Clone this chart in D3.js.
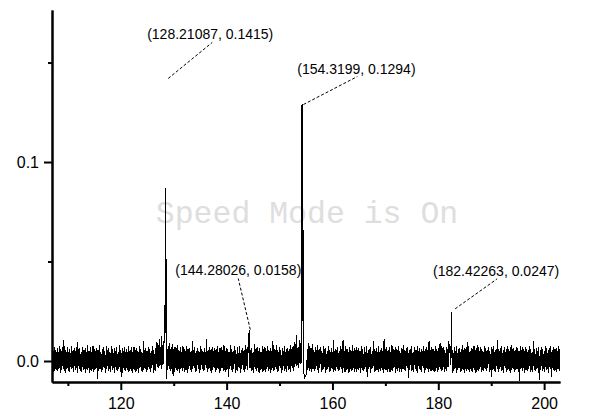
<!DOCTYPE html>
<html>
<head>
<meta charset="utf-8">
<script src="https://cdn.jsdelivr.net/npm/d3@7"></script>
<style>
  body { margin: 0; background: #fff; }
  svg text { font-family: "Liberation Sans", Arial, sans-serif; }
</style>
</head>
<body>
<div class="first"></div>
<script>
// x runs from 107 in steps of 0.125, values are in units of 1e-4
var xStart = 107;
var xStep = 0.125;
var signal = [
  62, -41, 48, -55, 70, -38, 55, -47, 66, -52, 44, -36, 73, -58, 51, -44,
  68, -39, 105, -50, 57, -61, 46, -35, 72, -48, 60, -54, 41, -42, 77, -37,
  53, -57, 64, -45, 49, -33, 95, -60, 58, -40, 67, -51, 45, -56, 71, -43,
  56, -38, 63, -62, 47, -46, 80, -35, 52, -58, 69, -49, 43, -41, 74, -53,
  59, -44, 50, -37, 66, -92, 54, -50, 78, -39, 45, -57, 62, -46, 70, -34,
  48, -60, 73, -42, 55, -51, 64, -38, 42, -55, 76, -47, 58, -36, 67, -59,
  51, -43, 69, -52, 46, -40, 79, -56, 57, -78, 63, -61, 49, -45, 72, -48,
  60, -37, 44, -54, 75, -50, 53, -42, 68, -58, 47, -39, 71, -46, 56, -53,
  65, -41, 50, -62, 74, -36, 58, -49, 43, -55, 100, -44, 55, -38, 66, -57,
  52, -47, 70, -40, 61, -53, 48, -35, 77, -59, 57, -43, 64, -50, 95, -30,
  88, -35, 110, -25, 72, -40, 125, -20, 98, -15, 280, 140, 870, -90, 60, -45,
  75, -38, 92, -52, 68, -40, 84, -76, 59, -55, 71, -36, 63, -49, 78, -42,
  54, -58, 69, -41, 47, -50, 76, -37, 61, -53, 50, -44, 73, -60, 58, -39,
  66, -46, 45, -55, 100, -42, 56, -36, 70, -57, 52, -48, 64, -40, 49, -61,
  74, -44, 60, -38, 51, -52, 67, -47, 43, -35, 110, -56, 57, -41, 69, -50,
  53, -59, 72, -43, 48, -37, 65, -54, 58, -46, 76, -40, 44, -62, 63, -48,
  70, -36, 55, -51, 82, -45, 49, -57, 67, -39, 59, -80, 46, -42, 78, -47,
  61, -55, 50, -38, 73, -60, 57, -44, 68, -49, 42, -36, 75, -58, 54, -41,
  66, -47, 49, -53, 79, -39, 60, -45, 70, 40, 158, -35, 56, -50, 64, -43,
  47, -58, 85, -40, 58, -52, 71, -37, 52, -61, 63, -46, 45, -42, 77, -54,
  59, -44, 68, -56, 50, -38, 74, -49, 56, -41, 66, -59, 48, -35, 98, -51,
  62, -46, 53, -40, 78, -55, 45, -48, 69, -36, 57, -62, 64, -43, 51, -50,
  75, -39, 58, -54, 67, -45, 49, -41, 80, -57, 60, -37, 72, -48, 95, -30,
  85, -25, 130, -20, 70, -35, 105, -15, 90, -10, 1294, 200, 660, -80, -85, -75,
  -70, -60, 60, -45, 92, -50, 74, -38, 66, -56, 83, -42, 57, -52, 70, -40,
  55, -47, 78, -58, 61, -36, 69, -53, 48, -44, 75, -39, 59, -60, 64, -45,
  50, -41, 73, -55, 57, -48, 66, -37, 45, -57, 104, -43, 62, -50, 54, -38,
  71, -52, 48, -46, 76, -40, 58, -59, 105, -35, 52, -54, 74, -45, 60, -42,
  46, -61, 69, -38, 55, -49, 79, -43, 51, -56, 63, -40, 72, -53, 57, -47,
  65, -36, 49, -58, 75, -44, 59, -51, 68, -39, 44, -55, 77, -82, 53, -41,
  61, -60, 70, -42, 52, -37, 100, -54, 58, -48, 66, -43, 47, -57, 73, -39,
  56, -50, 64, -45, 48, -62, 110, -38, 60, -47, 69, -53, 54, -40, 71, -56,
  45, -44, 78, -51, 62, -36, 53, -59, 70, -42, 57, -48, 74, -55, 50, -41,
  67, -57, 58, -39, 80, -46, 49, -52, 63, -37, 72, -85, 55, -44, 61, -49,
  73, -43, 46, -55, 69, -40, 57, -50, 76, -58, 52, -38, 65, -47, 59, -53,
  48, -36, 74, -61, 60, -45, 68, -42, 54, -56, 99, -39, 56, -51, 70, -44,
  62, -48, 51, -57, 77, -35, 58, -53, 66, -43, 85, -40, 90, -50, 64, -46,
  72, -55, 57, -38, 69, -49, 61, -30, 100, 40, 75, -20, 247, -60, 55, -52,
  68, -41, 50, -58, 74, -45, 59, -37, 65, -54, 47, -48, 80, -42, 56, -60,
  63, -39, 71, -51, 95, -46, 76, -56, 49, -40, 67, -53, 58, -36, 73, -47,
  55, -59, 64, -43, 79, -50, 51, -38, 70, -57, 60, -45, 46, -52, 75, -41,
  66, -48, 57, -36, 72, -55, 48, -44, 68, -80, 62, -40, 77, -49, 54, -54,
  59, -42, 108, -57, 52, -39, 65, -50, 73, -46, 56, -58, 69, -37, 47, -53,
  74, -45, 61, -51, 50, -60, 78, -43, 58, -38, 67, -55, 55, -47, 70, -42,
  63, -56, 52, -100, 76, -41, 57, -49, 69, -36, 48, -59, 72, -45, 60, -52,
  54, -40, 75, -54, 62, -47, 46, -57, 100, -43, 58, -50, 66, -38, 51, -61,
  71, -95, 56, -44, 68, -52, 60, -39, 49, -56, 77, -46, 63, -41, 53, -58,
  67, -42, 74, -78, 55, -37, 70, -50, 59, -45, 64, -57, 48, -40, 73, -49,
  58
];

var xMajor = [120, 140, 160, 180, 200];
var xMinor = [110, 130, 150, 170, 190];
var yMajor = [0, 0.1];
var yMinor = [0.05, 0.15];

var peakX = [128.21087, 154.3199, 144.28026, 182.42263];
var peakY = [0.1415, 0.1294, 0.0158, 0.0247];
var peakLabel = ["(128.21087, 0.1415)", "(154.3199, 0.1294)", "(144.28026, 0.0158)", "(182.42263, 0.0247)"];

// layout of each note, pixels from its point: leader start, leader end, label
var noteLayout = [
  {sx: 4, sy: -1, ex: 48, ey: -37, tx: 46, ty: -40},
  {sx: 1, sy: 1, ex: 55, ey: -27, tx: 54, ty: -30},
  {sx: 1, sy: 0, ex: -11, ey: -51, tx: -11, ty: -55},
  {sx: 4, sy: -3, ex: 46, ey: -33, tx: 45, ty: -36}
];

var width = 600, height = 416;
var margin = {top: 10, right: 40, bottom: 34, left: 52};

var data = signal.map(function(v, i) { return {x: xStart + i * xStep, y: v / 10000}; });

var svg = d3.select("body .first")
  .append("svg")
  .attr("width", width)
  .attr("height", height);

var x = d3.scaleLinear()
  .domain([107, 203])
  .range([margin.left, width - margin.right]);

var y = d3.scaleLinear()
  .domain([-0.01055, 0.1764])
  .range([height - margin.bottom, margin.top]);

// watermark sits under the trace
svg.append("text")
  .attr("x", 307)
  .attr("y", 223)
  .attr("text-anchor", "middle")
  .style("font-family", "'Liberation Mono', 'DejaVu Sans Mono', monospace")
  .style("font-size", "31.5px")
  .attr("fill", "#dedede")
  .text("Speed Mode is On");

var line = d3.line()
  .x(function(d) { return x(d.x); })
  .y(function(d) { return y(d.y); });

svg.append("path")
  .datum(data)
  .attr("fill", "none")
  .attr("stroke", "#000")
  .attr("stroke-width", 1)
  .attr("shape-rendering", "crispEdges")
  .attr("d", line);

// axes
var xAxis = svg.append("g")
  .attr("transform", "translate(0," + (height - margin.bottom) + ")")
  .call(d3.axisBottom(x).tickValues(xMajor).tickSize(8).tickSizeOuter(0).tickFormat(d3.format("d")));

var xAxisMinor = svg.append("g")
  .attr("transform", "translate(0," + (height - margin.bottom) + ")")
  .call(d3.axisBottom(x).tickValues(xMinor).tickSize(4).tickSizeOuter(0).tickFormat(""));

var yAxis = svg.append("g")
  .attr("transform", "translate(" + margin.left + ",0)")
  .call(d3.axisLeft(y).tickValues(yMajor).tickSize(8).tickSizeOuter(0).tickFormat(d3.format(".1f")));

var yAxisMinor = svg.append("g")
  .attr("transform", "translate(" + margin.left + ",0)")
  .call(d3.axisLeft(y).tickValues(yMinor).tickSize(4).tickSizeOuter(0).tickFormat(""));

svg.selectAll(".domain")
  .attr("stroke", "#000")
  .attr("stroke-width", 2);
svg.selectAll(".tick line")
  .attr("stroke", "#000")
  .attr("stroke-width", 2);
svg.selectAll(".tick text")
  .attr("fill", "#000")
  .style("font-size", "16px");
xAxis.selectAll(".tick text").attr("dy", "1.0em");
yAxis.selectAll(".tick text").attr("x", -13);

// peak annotations
var notes = svg.append("g").attr("class", "notes");

peakX.forEach(function(px, i) {
  var x0 = x(px), y0 = y(peakY[i]), L = noteLayout[i];
  notes.append("line")
    .attr("x1", x0 + L.sx)
    .attr("y1", y0 + L.sy)
    .attr("x2", x0 + L.ex)
    .attr("y2", y0 + L.ey)
    .attr("stroke", "#000")
    .attr("stroke-width", 1)
    .attr("stroke-dasharray", "3,2");
  notes.append("text")
    .attr("x", x0 + L.tx)
    .attr("y", y0 + L.ty)
    .attr("text-anchor", "middle")
    .style("font-size", "14px")
    .attr("fill", "#000")
    .text(peakLabel[i]);
});
</script>
</body>
</html>
